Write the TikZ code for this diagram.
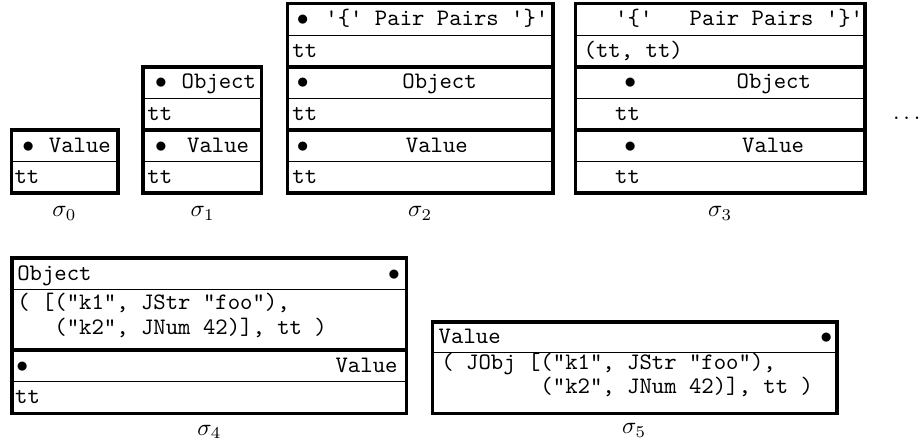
\documentclass[tikz,border=0pt]{standalone}
\usepackage{fontspec}
\usepackage{amsmath}

\begin{document}
\begin{tikzpicture}[
		frame/.style={line width=1.4pt},
		sep/.style={line width=.4pt},
		txt/.style={font=\ttfamily, inner sep=0pt, text height=1.5ex, text depth=.25ex},
		lbl/.style={inner sep=0pt}
	]
		\useasboundingbox (0,-3.725) rectangle (13.708,2.876);
		%
		% sigma_0
		\draw[frame] (0.17,0) rectangle (1.76,0.94);
		\draw[sep] (0.17,0.47) -- (1.76,0.47);
		\node[txt] (b0) at (0.42,0.705) {$\bullet$};
		\node[txt] (v0) at (1.19,0.705) {Value};
		\node[txt,anchor=west] (t0) at (0.21,0.235) {tt};
		\node[lbl] (s0) at (0.96,-0.3) {$\sigma_0$};
		%
		% sigma_1
		\draw[frame] (2.13,0) rectangle (3.90,0.94);
		\draw[frame] (2.13,0.94) rectangle (3.90,1.88);
		\draw[sep] (2.13,0.47) -- (3.90,0.47);
		\draw[sep] (2.13,1.41) -- (3.90,1.41);
		\node[txt] (b1a) at (2.40,1.645) {$\bullet$};
		\node[txt] (o1) at (3.26,1.645) {Object};
		\node[txt,anchor=west] (t1a) at (2.19,1.175) {tt};
		\node[txt] (b1b) at (2.40,0.705) {$\bullet$};
		\node[txt] (v1) at (3.25,0.705) {Value};
		\node[txt,anchor=west] (t1b) at (2.19,0.235) {tt};
		\node[lbl] (s1) at (3.02,-0.3) {$\sigma_1$};
		%
		% sigma_2
		\draw[frame] (4.28,0) rectangle (8.24,0.94);
		\draw[frame] (4.28,0.94) rectangle (8.24,1.88);
		\draw[frame] (4.28,1.88) rectangle (8.24,2.82);
		\draw[sep] (4.28,0.47) -- (8.24,0.47);
		\draw[sep] (4.28,1.41) -- (8.24,1.41);
		\draw[sep] (4.28,2.35) -- (8.24,2.35);
		\node[txt] (b2a) at (4.51,2.585) {$\bullet$};
		\node[txt] (p2) at (6.51,2.585) {'\{' Pair Pairs '\}'};
		\node[txt,anchor=west] (t2a) at (4.35,2.115) {tt};
		\node[txt] (b2b) at (4.51,1.645) {$\bullet$};
		\node[txt] (o2) at (6.55,1.645) {Object};
		\node[txt,anchor=west] (t2b) at (4.35,1.175) {tt};
		\node[txt] (b2c) at (4.51,0.705) {$\bullet$};
		\node[txt] (v2) at (6.51,0.705) {Value};
		\node[txt,anchor=west] (t2c) at (4.35,0.235) {tt};
		\node[lbl] (s2) at (6.26,-0.3) {$\sigma_2$};
		%
		% sigma_3
		\draw[frame] (8.57,0) rectangle (12.89,0.94);
		\draw[frame] (8.57,0.94) rectangle (12.89,1.88);
		\draw[frame] (8.57,1.88) rectangle (12.89,2.82);
		\draw[sep] (8.57,0.47) -- (12.89,0.47);
		\draw[sep] (8.57,1.41) -- (12.89,1.41);
		\draw[sep] (8.57,2.35) -- (12.89,2.35);
		\node[txt,anchor=west] (l3) at (9.16,2.585) {'\{'};
		\node[txt,anchor=west] (p3) at (10.27,2.585) {Pair Pairs '\}'};
		\node[txt,anchor=west] (t3a) at (8.69,2.115) {(tt, tt)};
		\node[txt] (b3b) at (9.39,1.645) {$\bullet$};
		\node[txt] (o3) at (11.53,1.645) {Object};
		\node[txt,anchor=west] (t3b) at (9.16,1.175) {tt};
		\node[txt] (b3c) at (9.39,0.705) {$\bullet$};
		\node[txt] (v3) at (11.52,0.705) {Value};
		\node[txt,anchor=west] (t3c) at (9.16,0.235) {tt};
		\node[lbl] (s3) at (10.73,-0.3) {$\sigma_3$};
		%
		\node[lbl] (more) at (13.54,1.12) {$\dots$};
		%
		% sigma_4
		\draw[frame] (0.18,-2.34) rectangle (6.06,-0.97);
		\draw[frame] (0.18,-3.28) rectangle (6.06,-2.34);
		\draw[sep] (0.18,-1.44) -- (6.06,-1.44);
		\draw[sep] (0.18,-2.81) -- (6.06,-2.81);
		\node[txt,anchor=west] (o4) at (0.25,-1.205) {Object};
		\node[txt] (b4a) at (5.87,-1.205) {$\bullet$};
		\node[txt,anchor=west] (k4a) at (0.25,-1.64) {( [("k1", JStr "foo"),};
		\node[txt,anchor=west] (k4b) at (0.25,-2.01) {\phantom{( [}("k2", JNum 42)], tt )};
		\node[txt] (b4b) at (0.33,-2.575) {$\bullet$};
		\node[txt,anchor=east] (v4) at (5.93,-2.575) {Value};
		\node[txt,anchor=west] (t4) at (0.22,-3.045) {tt};
		\node[lbl] (s4) at (3.12,-3.56) {$\sigma_4$};
		%
		% sigma_5
		\draw[frame] (6.44,-3.28) rectangle (12.47,-1.92);
		\draw[sep] (6.44,-2.37) -- (12.47,-2.37);
		\node[txt,anchor=west] (v5) at (6.53,-2.145) {Value};
		\node[txt] (b5) at (12.31,-2.145) {$\bullet$};
		\node[txt,anchor=west] (k5a) at (6.57,-2.53) {( JObj [("k1", JStr "foo"),};
		\node[txt,anchor=west] (k5b) at (6.57,-2.89) {\phantom{( JObj [}("k2", JNum 42)], tt )};
		\node[lbl] (s5) at (9.45,-3.54) {$\sigma_5$};
	\end{tikzpicture}
\end{document}
